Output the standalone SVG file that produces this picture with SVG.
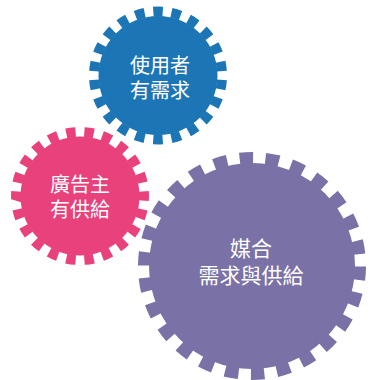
<svg xmlns="http://www.w3.org/2000/svg" width="370" height="380" viewBox="0 0 370 380">
<style>
.lbl{font-family:"Noto Sans CJK TC","Noto Sans CJK SC",sans-serif;fill:#fff;text-anchor:middle}
.s20{font-size:20px}
.s21{font-size:21px}
.ring{fill:none}
.w{fill:#fff}
.wr{fill:none;stroke:#fff}
</style>
<rect width="370" height="380" fill="#fff"/>
<g id="gear-purple">
<circle cx="252" cy="266" r="103" fill="#7a72a6"/>
<circle class="ring" cx="252" cy="266" r="108" stroke="#7a72a6" stroke-width="12" pathLength="26" stroke-dasharray="0.52 0.48" transform="rotate(0.3 252 266)"/>
<text class="lbl s21" x="251" y="256">媒合</text>
<text class="lbl s21" x="251" y="283">需求與供給</text>
</g>
<g id="gear-pink">
<circle class="w" cx="80" cy="196" r="61"/>
<circle class="wr" cx="80" cy="196" r="64.5" stroke-width="13" pathLength="22" stroke-dasharray="0.683 0.317" transform="rotate(-5.58 80 196)"/>
<circle cx="80" cy="196" r="59.5" fill="#e8417b"/>
<circle class="ring" cx="80" cy="196" r="64" stroke="#e8417b" stroke-width="10" pathLength="22" stroke-dasharray="0.52 0.48" transform="rotate(-4.25 80 196)"/>
<text class="lbl s20" x="80" y="191.5">廣告主</text>
<text class="lbl s20" x="80" y="216.5">有供給</text>
</g>
<g id="gear-blue">
<circle class="w" cx="158" cy="75.5" r="61"/>
<circle class="wr" cx="158" cy="75.5" r="64.5" stroke-width="13" pathLength="22" stroke-dasharray="0.683 0.317" transform="rotate(2.6 158 75.5)"/>
<circle cx="158" cy="75.5" r="59.5" fill="#1c76b6"/>
<circle class="ring" cx="158" cy="75.5" r="64" stroke="#1c76b6" stroke-width="10" pathLength="22" stroke-dasharray="0.52 0.48" transform="rotate(3.93 158 75.5)"/>
<text class="lbl s20" x="160" y="72.5">使用者</text>
<text class="lbl s20" x="160" y="97.5">有需求</text>
</g>
<g id="connectors"/>
</svg>
